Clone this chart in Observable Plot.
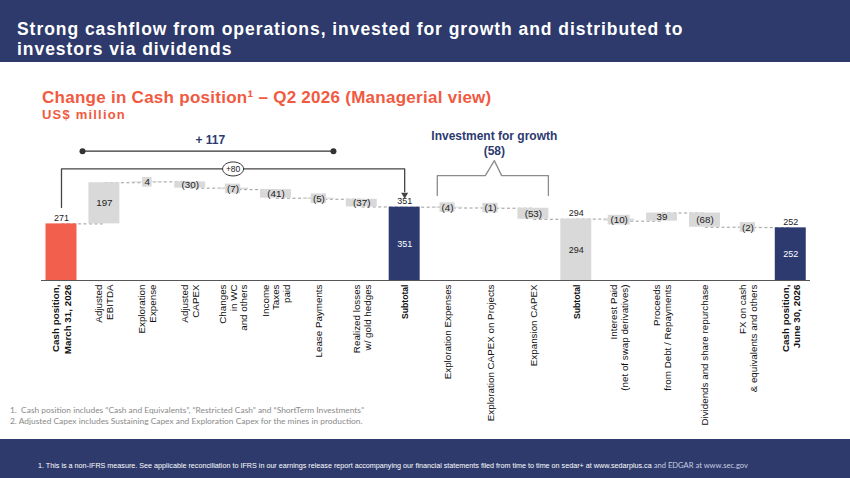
<!DOCTYPE html>
<html><head><meta charset="utf-8">
<script src="https://cdn.jsdelivr.net/npm/d3@7"></script>
<script src="https://cdn.jsdelivr.net/npm/@observablehq/plot@0.6"></script>
<style>
body{margin:0;width:850px;height:478px;position:relative;overflow:hidden;background:#fff;font-family:"Liberation Sans",Arial,sans-serif;}
#hdr{position:absolute;left:0;top:0;width:850px;height:62px;background:#2D3A6B;}
#title{position:absolute;left:17px;top:19px;color:#fff;font-weight:bold;font-size:17.5px;line-height:20px;letter-spacing:0.95px;font-family:"Liberation Sans",Arial,sans-serif;white-space:nowrap;}
#sub1{position:absolute;left:42px;top:88px;color:#F15A3F;font-weight:bold;font-size:17px;line-height:20px;letter-spacing:0.27px;font-family:"Liberation Sans",Arial,sans-serif;white-space:nowrap;}
#sub2{position:absolute;left:42px;top:107px;color:#F15A3F;font-weight:bold;font-size:13px;line-height:16px;letter-spacing:1.2px;font-family:"Liberation Sans",Arial,sans-serif;}
#chart{position:absolute;left:0;top:125px;}
#notes{position:absolute;left:10px;top:405px;color:#8a8a8a;font-size:8.4px;line-height:11px;font-family:Lato,sans-serif;z-index:2;}
#ftr{position:absolute;left:0;top:439px;width:850px;height:39px;background:#2D3A6B;}
#ftxt{position:absolute;left:38px;top:21px;color:#fff;font-size:7.2px;line-height:10px;font-family:"Liberation Sans Narrow","Liberation Sans",sans-serif;white-space:nowrap;}
#ftxt span{color:#c9cde0;font-family:Lato,sans-serif;font-size:7.6px;}
</style></head>
<body>
<div id="hdr"><div id="title">Strong cashflow from operations, invested for growth and distributed to<br>investors via dividends</div></div>
<div id="sub1">Change in Cash position¹ – Q2 2026 (Managerial view)</div>
<div id="sub2">US$ million</div>
<div id="chart"></div>
<div id="notes">1.&nbsp;&nbsp;Cash position includes “Cash and Equivalents”, “Restricted Cash” and “ShortTerm Investments”<br>2.&nbsp;Adjusted Capex includes Sustaining Capex and Exploration Capex for the mines in production.</div>
<div id="ftr"><div id="ftxt">1. This is a non-IFRS measure. See applicable reconciliation to IFRS in our earnings release report accompanying our financial statements filed from time to time on sedar+ at www.sedarplus.ca <span>and EDGAR at www.sec.gov</span></div></div>
<script>
const categories = ["Cash position,\nMarch 31, 2026", "Adjusted\nEBITDA", "Exploration\nExpense", "Adjusted\nCAPEX", "Changes\nin WC\nand others", "Income\nTaxes\npaid", "Lease Payments", "Realized losses\nw/ gold hedges", "Subtotal", "Exploration Expenses", "Exploration CAPEX on Projects", "Expansion CAPEX", "Subtotal", "Interest Paid\n(net of swap derivatives)", "Proceeds\nfrom Debt / Repayments", "Dividends and share repurchase", "FX on cash\n& equivalents and others", "Cash position,\nJune 30, 2026"];
const values = [271, 197, 4, -30, -7, -41, -5, -37, 351, -4, -1, -53, 294, -10, 39, -68, -2, 252];
const kinds = ["start", "delta", "delta", "delta", "delta", "delta", "delta", "delta", "total", "delta", "delta", "delta", "subtotal", "delta", "delta", "delta", "delta", "end"];

// annotations (in data units: x = category index, y = US$ million)
const operatingTotal = [{x: 0.49, y: 619, label: "+ 117", tx: 3.47, ty: 670}];
const operatingSpan = [{x: 0.49, y: 619}, {x: 6.34, y: 619}];
const bridgePath = [{x: 0, y: 350}, {x: 0, y: 534}, {x: 8, y: 534}, {x: 8, y: 425}];
const bridgeLabel = [{x: 4, y: 534, label: "+80"}];
const growthBracket = [{x: 8.76, y: 407}, {x: 8.76, y: 502}, {x: 9.88, y: 502}, {x: 10.09, y: 574}, {x: 10.26, y: 502}, {x: 11.35, y: 502}, {x: 11.35, y: 407}];
const growthLabels = [{x: 10.09, y: 689, label: "Investment for growth"}, {x: 10.09, y: 617, label: "(58)"}];

let run = 0;
const rows = categories.map((cat, i) => {
  const v = values[i], kind = kinds[i];
  let y1, y2;
  if (kind === "delta") { y1 = run; y2 = run + v; run = y2; }
  else { y1 = 0; y2 = v; run = v; }
  return {i, cat, v, kind, y1, y2, mid: (y1 + y2) / 2, label: v < 0 ? `(${-v})` : `${v}`};
});
const connectors = rows.slice(0, -1).map(r => ({x1: r.i, x2: r.i + 1, y: r.y2}));
const navy = "#2C3A70", red = "#F25F4C", grey = "#D9D9D9";
const fillOf = k => k === "start" ? red : (k === "total" || k === "end") ? navy : grey;
const small = rows.filter(r => r.kind === "delta" && Math.abs(r.v) <= 10);
const halfW = r => (r.label.length === 1 ? 4.8 : r.label.length === 3 ? 7.6 : 11) / 42.9;
const boldCats = rows.filter(r => r.kind !== "delta");
const regCats = rows.filter(r => r.kind === "delta");

const k = 0.5523;
const ellipse = {draw(ctx) {
  const rx = 10.5, ry = 7;
  ctx.moveTo(rx, 0);
  ctx.bezierCurveTo(rx, ry * k, rx * k, ry, 0, ry);
  ctx.bezierCurveTo(-rx * k, ry, -rx, ry * k, -rx, 0);
  ctx.bezierCurveTo(-rx, -ry * k, -rx * k, -ry, 0, -ry);
  ctx.bezierCurveTo(rx * k, -ry, rx, -ry * k, rx, 0);
  ctx.closePath();
}};

const chart = Plot.plot({
  width: 850, height: 315,
  marginLeft: 41, marginRight: 40, marginTop: 0, marginBottom: 160,
  x: {type: "linear", domain: [-0.466, 17.46], axis: null},
  y: {domain: [0, 742], axis: null},
  style: {fontFamily: "'Liberation Sans', Arial, sans-serif", background: "transparent", overflow: "visible"},
  marks: [
    Plot.link(connectors, {x1: "x1", x2: "x2", y1: "y", y2: "y", stroke: "#9a9a9a", strokeWidth: 1, strokeDasharray: "3,2.5"}),
    Plot.rect(rows, {x1: d => d.i - 0.361, x2: d => d.i + 0.361, y1: "y1", y2: "y2", fill: d => fillOf(d.kind)}),
    Plot.rect(small, {x1: d => d.i - halfW(d), x2: d => d.i + halfW(d), y1: d => d.mid - 23, y2: d => d.mid + 23, fill: grey}),
    Plot.ruleY([0], {stroke: "#555", strokeWidth: 1.2}),
    Plot.text(rows.filter(r => r.i > 0), {x: "i", y: "mid", text: "label", fontSize: d => d.kind === "delta" ? 9.8 : 9, fill: d => (d.kind === "total" || d.kind === "end") ? "#fff" : "#222"}),
    Plot.text(rows.filter(r => r.kind !== "delta"), {x: "i", y: "y2", text: "label", fontSize: 9, fill: "#222", lineAnchor: "bottom", dy: -3}),
    Plot.text(boldCats, {x: "i", frameAnchor: "bottom", text: "cat", rotate: -90, textAnchor: "end", lineAnchor: "middle", dy: 4, fontSize: d => d.kind === "start" || d.kind === "end" ? 9.8 : 8.6, fontWeight: "bold", lineHeight: 1.18, fill: "#111"}),
    Plot.text(regCats, {x: "i", frameAnchor: "bottom", text: "cat", rotate: -90, textAnchor: "end", lineAnchor: "middle", dy: 4, fontSize: 9.8, lineHeight: 1.1, fill: "#111"}),
    // +117 operating
    Plot.line(operatingSpan, {x: "x", y: "y", stroke: "#333", strokeWidth: 1.3}),
    Plot.dot(operatingSpan, {x: "x", y: "y", r: 3, fill: "#333"}),
    Plot.text(operatingTotal, {x: "tx", y: "ty", text: "label", fontSize: 12, fontWeight: "bold", fill: navy}),
    // +80 bridge
    Plot.line(bridgePath, {x: "x", y: "y", stroke: "#444", strokeWidth: 1.3}),
    Plot.dot([bridgePath[3]], {x: "x", y: "y", symbol: "triangle", rotate: 180, r: 2.6, fill: "#444", dy: 3}),
    Plot.dot(bridgeLabel, {x: "x", y: "y", symbol: ellipse, fill: "#fff", stroke: "#333", strokeWidth: 1}),
    Plot.text(bridgeLabel, {x: "x", y: "y", text: "label", fontSize: 8.5, fill: "#222"}),
    // Investment for growth
    Plot.line(growthBracket, {x: "x", y: "y", stroke: "#8c8c8c", strokeWidth: 1.3}),
    Plot.text(growthLabels, {x: "x", y: "y", text: "label", fontSize: 12, fontWeight: "bold", fill: navy})
  ]
});
document.getElementById("chart").appendChild(chart);
</script>
</body></html>
